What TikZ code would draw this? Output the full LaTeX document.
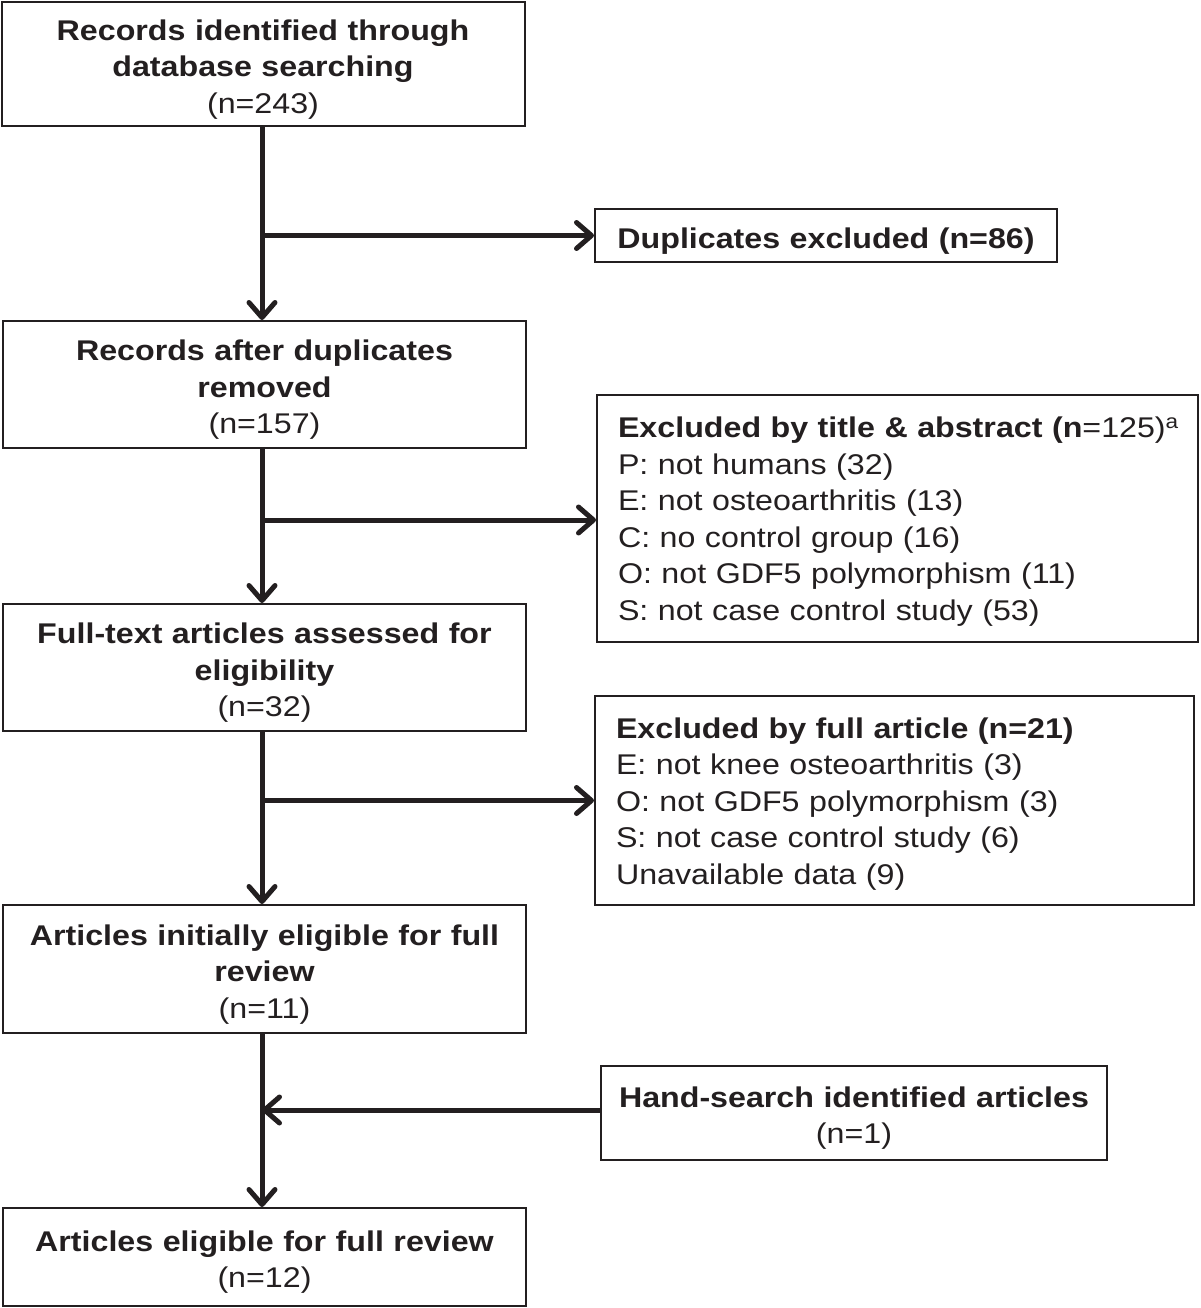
\documentclass[tikz,border=0pt]{standalone}
\usepackage{fontspec}
\setmainfont[FakeStretch=1.13]{Liberation Sans}
\usetikzlibrary{arrows.meta}
\definecolor{Ink}{HTML}{231F20}

\begin{document}
\begin{tikzpicture}[x=1pt, y=-1pt,
    every node/.style={font=\fontsize{28.5}{36.5}\selectfont, text=Ink},
    topgap/.style={execute at begin node={\rule{0pt}{#1}}},
    mainbox/.style={draw=Ink, line width=2pt, minimum width=523pt, text width=500pt, align=center,
        inner sep=0pt, topgap=31pt},
    sidebox/.style={draw=Ink, line width=2pt, align=left, inner xsep=21pt, inner ysep=0pt, topgap=27pt},
    flow/.style={draw=Ink, line width=5pt, -{Straight Barb[length=15pt, width=26pt, line cap=round, line join=round]}}
]
\useasboundingbox (0,0) rectangle (1200,1308);

% === MAIN COLUMN ===
\node[mainbox, minimum height=124pt] (records) at (263, 64)
    {\textbf{Records identified through}\\\textbf{database searching}\\(n=243)};
\node[mainbox, minimum height=127pt] (dedup) at (264.5, 384.5)
    {\textbf{Records after duplicates}\\\textbf{removed}\\(n=157)};
\node[mainbox, minimum height=127pt] (fulltext) at (264.5, 667.5)
    {\textbf{Full-text articles assessed for}\\\textbf{eligibility}\\(n=32)};
\node[mainbox, minimum height=128pt] (initial) at (264.5, 969)
    {\textbf{Articles initially eligible for full}\\\textbf{review}\\(n=11)};
\node[mainbox, minimum height=98pt] (final) at (264.5, 1257)
    {\textbf{Articles eligible for full review}\\(n=12)};

% === SIDE BOXES ===
\node[mainbox, minimum width=462pt, text width=440pt, minimum height=53pt] (dupl) at (826, 235.5)
    {\textbf{Duplicates excluded (n=86)}};
\node[sidebox, text width=559pt, minimum height=247pt] (extitle) at (897.5, 518.5)
    {\makebox[\linewidth][l]{\textbf{Excluded by title \& abstract (n}=125)\textsuperscript{a}}\\
     P: not humans (32)\\
     E: not osteoarthritis (13)\\
     C: no control group (16)\\
     O: not GDF5 polymorphism (11)\\
     S: not case control study (53)};
\node[sidebox, text width=557pt, minimum height=209pt] (exfull) at (894.5, 800.5)
    {\textbf{Excluded by full article (n=21)}\\
     E: not knee osteoarthritis (3)\\
     O: not GDF5 polymorphism (3)\\
     S: not case control study (6)\\
     Unavailable data (9)};
\node[mainbox, minimum width=506pt, text width=484pt, minimum height=94pt] (hand) at (854, 1113)
    {\textbf{Hand-search identified articles}\\(n=1)};

% === CONNECTORS ===
\coordinate (trunk) at (262, 0);
\draw[flow] (records.south -| trunk) -- (dedup.north -| trunk);
\draw[flow] (dedup.south -| trunk) -- (fulltext.north -| trunk);
\draw[flow] (fulltext.south -| trunk) -- (initial.north -| trunk);
\draw[flow] (initial.south -| trunk) -- (final.north -| trunk);

\draw[flow] (dupl.west -| trunk) -- (dupl.west);
\draw[flow] (trunk |- 0,520) -- (extitle.west |- 0,520);
\draw[flow] (exfull.west -| trunk) -- (exfull.west);
\draw[flow] (hand.west |- 0,1110) -- (trunk |- 0,1110);

\end{tikzpicture}
\end{document}
